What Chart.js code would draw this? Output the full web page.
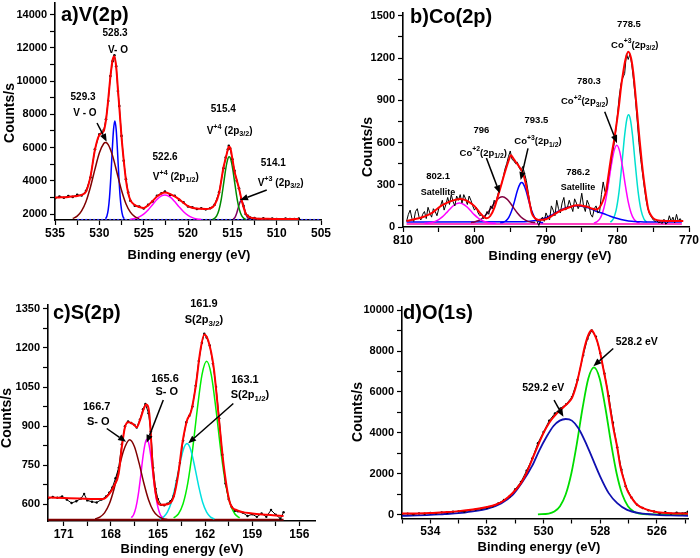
<!DOCTYPE html>
<html><head><meta charset="utf-8">
<script src="https://cdn.jsdelivr.net/npm/chart.js@4.4.1/dist/chart.umd.min.js"></script>
<style>
html,body{margin:0;padding:0;background:#fff;}
#wrap{position:relative;width:700px;height:558px;overflow:hidden;background:#fff;}
canvas{position:absolute;}
</style></head><body>
<div id="wrap">
<canvas id="ca" style="left:0;top:0"></canvas>
<canvas id="cb" style="left:350px;top:0"></canvas>
<canvas id="cc" style="left:0;top:280px"></canvas>
<canvas id="cd" style="left:350px;top:280px"></canvas>
</div>
<script>
// ---------- shared text ----------
const X_TITLE = 'Binding energy (eV)';
const Y_TITLE = 'Counts/s';
const FONT = "'Liberation Sans', Arial, Helvetica, sans-serif";

// ---------- tick values / labels ----------
const aXTicks = [505,507.5,510,512.5,515,517.5,520,522.5,525,527.5,530,532.5,535];
const aXLabels = [505,510,515,520,525,530,535];
const aYTicks = [2000,3000,4000,5000,6000,7000,8000,9000,10000,11000,12000,13000,14000];
const aYLabels = [2000,4000,6000,8000,10000,12000,14000];
const bXTicks = [770,775,780,785,790,795,800,805,810];
const bXLabels = [770,780,790,800,810];
const bYTicks = [0,150,300,450,600,750,900,1050,1200,1350,1500];
const bYLabels = [0,300,600,900,1200,1500];
const cXTicks = [156,157.5,159,160.5,162,163.5,165,166.5,168,169.5,171];
const cXLabels = [156,159,162,165,168,171];
const cYTicks = [600,675,750,825,900,975,1050,1125,1200,1275,1350];
const cYLabels = [600,750,900,1050,1200,1350];
const dXTicks = [525,526,527,528,529,530,531,532,533,534,535];
const dXLabels = [526,528,530,532,534];
const dYTicks = [0,1000,2000,3000,4000,5000,6000,7000,8000,9000,10000];
const dYLabels = [0,2000,4000,6000,8000,10000];

// ---------- panel a : V(2p) ----------
const aRaw = [[535,2950],[534.5,3050],[534,2980],[533.5,3080],[533,3030],[532.5,3150],[532,3120],[531.5,3400],[531,4200],[530.5,5900],[530,6800],[529.5,7050],[529.25,7700],[529,8800],[528.75,10300],[528.5,11200],[528.3,11550],[528.1,10900],[527.9,9400],[527.75,8500],[527.5,6700],[527.25,5200],[527,4100],[526.75,3300],[526.5,2800],[526,2500],[525.5,2450],[525,2330],[524.5,2550],[524,2750],[523.5,3100],[523,3250],[522.6,3350],[522,3150],[521.5,3100],[521,2850],[520.5,2700],[520,2450],[519.5,2400],[519,2300],[518.5,2350],[518,2280],[517.5,2350],[517,2560],[516.5,3300],[516,4750],[515.75,5400],[515.5,5900],[515.4,6100],[515.25,5950],[515,5300],[514.75,4600],[514.5,4000],[514.25,3550],[514,2900],[513.75,2500],[513.5,2000],[513.25,1900],[513,1780],[512.5,1750],[512,1700],[511.5,1740],[511,1680],[510.5,1720],[510,1700],[509.5,1680],[509,1730],[508.5,1690],[508,1700],[507.5,1720]];
const aFit = [[535,2990],[534.5,3000],[534,3010],[533.5,3030],[533,3060],[532.5,3090],[532,3150],[531.5,3350],[531,4250],[530.5,5850],[530,6750],[529.5,7000],[529.25,7660],[529,8870],[528.75,10270],[528.5,11280],[528.3,11500],[528.1,10870],[527.9,9470],[527.75,8460],[527.5,6660],[527.25,5250],[527,4050],[526.75,3260],[526.5,2840],[526,2540],[525.5,2420],[525,2360],[524.5,2520],[524,2780],[523.5,3050],[523,3230],[522.6,3290],[522,3200],[521.5,3060],[521,2880],[520.5,2670],[520,2480],[519.5,2380],[519,2330],[518.5,2310],[518,2300],[517.5,2340],[517,2540],[516.5,3250],[516,4800],[515.75,5350],[515.5,5900],[515.4,6050],[515.25,6000],[515,5350],[514.75,4550],[514.5,4050],[514.25,3550],[514,2950],[513.75,2440],[513.5,2040],[513.25,1880],[513,1800],[512.5,1740],[512,1720],[511,1710],[510,1705],[509,1700],[508,1700],[507.5,1700]];
const aV529 = [[533,1730],[532.5,1870],[532,2190],[531.5,2760],[531,3630],[530.5,4690],[530,5670],[529.5,6240],[529.3,6300],[529,6180],[528.5,5500],[528,4470],[527.5,3430],[527,2620],[526.5,2110],[526,1840],[525.5,1720]];
const aV528 = [[529.3,1715],[529.15,1870],[529,2245],[528.85,3019],[528.7,4250],[528.55,5773],[528.4,7076],[528.25,7600],[528.1,7076],[527.95,5773],[527.8,4250],[527.65,3019],[527.5,2245],[527.35,1870],[527.2,1715]];
const aV522 = [[526.5,1680],[526,1730],[525.5,1825],[525,1995],[524.5,2245],[524,2560],[523.5,2870],[523,3090],[522.6,3150],[522,3020],[521.5,2750],[521,2430],[520.5,2140],[520,1920],[519.5,1780],[519,1705],[518.5,1670]];
const aV515 = [[517.25,1675],[517,1737],[516.75,1900],[516.5,2255],[516.25,2884],[516,3763],[515.75,4693],[515.5,5333],[515.35,5450],[515.2,5333],[514.95,4693],[514.7,3763],[514.45,2884],[514.2,2255],[513.95,1900],[513.7,1737],[513.45,1675]];
const aV514 = [[514.9,1690],[514.7,1805],[514.5,2065],[514.3,2445],[514.1,2755],[514,2800],[513.9,2755],[513.7,2445],[513.5,2065],[513.3,1805],[513.1,1690]];
const aBase = [[532.5,1660],[505,1660]];

// ---------- panel b : Co(2p) ----------
const bRaw = [[809.5,40],[809.25,90],[809,120],[808.75,60],[808.5,40],[808.25,110],[808,130],[807.75,70],[807.5,50],[807.25,90],[807,110],[806.75,60],[806.5,140],[806.25,100],[806,70],[805.75,130],[805.5,110],[805.25,80],[805,130],[804.75,150],[804.5,190],[804.25,120],[804,160],[803.75,210],[803.5,160],[803.25,230],[803,180],[802.75,150],[802.5,220],[802.25,190],[802,230],[801.75,170],[801.5,230],[801.25,200],[801,160],[800.75,220],[800.5,190],[800.25,150],[800,120],[799.75,140],[799.5,100],[799.25,80],[799,90],[798.75,60],[798.5,75],[798.25,110],[798,90],[797.75,150],[797.5,130],[797.25,190],[797,170],[796.75,230],[796.5,270],[796.25,300],[796,350],[795.75,410],[795.5,450],[795.25,500],[795,540],[794.75,480],[794.5,470],[794.25,450],[794,460],[793.75,420],[793.5,400],[793.25,430],[793,380],[792.75,330],[792.5,250],[792.25,170],[792,110],[791.75,80],[791.5,60],[791.25,40],[791,10],[790.75,50],[790.5,70],[790.25,40],[790,100],[789.75,70],[789.5,50],[789.25,150],[789,120],[788.75,80],[788.5,190],[788.25,130],[788,100],[787.75,170],[787.5,210],[787.25,120],[787,140],[786.75,190],[786.5,150],[786.25,110],[786,200],[785.75,170],[785.5,130],[785.25,160],[785,240],[784.75,150],[784.5,110],[784.25,190],[784,160],[783.75,90],[783.5,70],[783.25,130],[783,150],[782.75,100],[782.5,110],[782.25,230],[782,320],[781.75,250],[781.5,260],[781.25,360],[781,430],[780.75,520],[780.5,580],[780.25,680],[780,800],[779.75,930],[779.5,1020],[779.25,1060],[779,1090],[778.75,1230],[778.5,1190],[778.25,1230],[778,1150],[777.75,1040],[777.5,910],[777.25,760],[777,600],[776.75,480],[776.5,380],[776.25,280],[776,190],[775.75,130],[775.5,90],[775.25,70],[775,50],[774.75,40],[774.5,45],[774.25,30],[774,35],[773.75,25],[773.5,55],[773.25,20],[773,30],[772.75,80],[772.5,40],[772.25,70],[772,30],[771.75,90],[771.5,40],[771.25,60],[771,40]];
const bFit = [[809.5,43],[808,60],[807,75],[806,98],[805.3,126],[804.5,155],[803.5,180],[802.5,196],[802,198],[801.5,195],[800.8,178],[800,148],[799.3,104],[798.7,72],[798.3,62],[797.8,78],[797.2,140],[796.6,240],[796.2,310],[795.8,380],[795.3,460],[794.9,510],[794.6,490],[794.2,460],[793.7,425],[793.2,380],[792.8,300],[792.4,200],[792,100],[791.5,60],[791,50],[790,55],[789,85],[788,115],[787,135],[786,152],[785.5,155],[785,152],[784.3,145],[783.5,130],[783,125],[782.5,140],[782,190],[781.6,257],[781.2,390],[780.9,495],[780.5,610],[780.2,709],[779.8,860],[779.5,995],[779.2,1100],[778.9,1186],[778.5,1245],[778.1,1198],[777.8,1100],[777.5,948],[777.2,780],[776.9,614],[776.6,460],[776.3,329],[776,220],[775.7,126],[775.2,75],[774.8,55],[774,45],[772,43],[770.8,43]];
const bSat802 = [[807,26],[806,32],[805,53],[804.5,72],[804,97],[803.5,124],[803,149],[802.5,166],[802.1,170],[801.5,160],[801,140],[800.5,113],[800,86],[799.5,64],[799,47],[798,30],[797,26]];
const bCo796 = [[800.5,32],[800,36],[799.5,44],[799,58],[798.5,81],[798,112],[797.5,149],[797,184],[796.5,208],[796.1,214],[795.5,200],[795,171],[794.5,134],[794,99],[793.5,71],[793,52],[792.5,40],[792,34],[791.5,32]];
const bCo793 = [[796.4,31],[796,34],[795.6,44],[795.2,69],[794.8,115],[794.4,184],[794,259],[793.6,309],[793.4,316],[793.2,309],[792.8,259],[792.4,184],[792,115],[791.6,69],[791.2,44],[790.8,34],[790.4,31]];
const bSat786 = [[809.5,35],[793,38],[792,42],[791,51],[790,66],[789,92],[788,120],[787,140],[786,150],[785.7,151],[785,148],[784,135],[783,112],[782,96],[781,76],[780,60],[779,48],[778,40],[777,37],[776,35],[771,35]];
const bCo780 = [[783.3,28],[782.9,36],[782.5,56],[782.1,100],[781.7,179],[781.3,295],[780.9,428],[780.5,537],[780.1,580],[779.7,537],[779.3,428],[778.9,295],[778.5,179],[778.1,100],[777.7,56],[777.3,36],[776.9,28]];
const bCo778 = [[781,34],[780.6,57],[780.2,118],[779.8,244],[779.4,439],[779,652],[778.7,765],[778.45,798],[778.2,765],[777.9,652],[777.5,439],[777.1,244],[776.7,118],[776.3,57],[775.9,34]];
const bBase = [[809.5,22],[771,22]];

// ---------- panel c : S(2p) ----------
const cRaw = [[172,622],[171.7,628],[171.4,625],[171.1,630],[170.8,618],[170.5,605],[170.2,612],[169.9,622],[169.7,640],[169.5,615],[169.2,610],[168.9,607],[168.6,618],[168.3,630],[168.1,645],[167.9,665],[167.7,700],[167.5,740],[167.3,830],[167.1,900],[166.9,918],[166.7,912],[166.5,905],[166.35,895],[166.15,925],[165.95,965],[165.8,985],[165.6,950],[165.45,880],[165.3,740],[165.15,660],[165,620],[164.8,598],[164.6,596],[164.4,602],[164.2,612],[164,632],[163.8,690],[163.6,760],[163.4,845],[163.2,915],[163,940],[162.8,975],[162.6,1055],[162.4,1150],[162.2,1220],[162.05,1255],[161.9,1240],[161.7,1210],[161.5,1140],[161.3,1050],[161.1,930],[160.9,790],[160.7,680],[160.5,620],[160.3,590],[160.1,575],[159.9,573],[159.6,568],[159.3,555],[159,562],[158.7,552],[158.4,565],[158.1,552],[157.8,578],[157.5,560],[157.2,545],[157,570]];
const cFit = [[172,626],[171,624],[170,622],[169,620],[168.5,620],[168.1,640],[167.8,670],[167.5,718],[167.3,820],[167.1,896],[166.9,915],[166.6,909],[166.35,896],[166.15,922],[165.9,967],[165.75,983],[165.55,948],[165.33,743],[165.1,628],[164.8,598],[164.4,600],[164,628],[163.7,718],[163.45,833],[163.15,922],[162.9,954],[162.6,1050],[162.3,1190],[162.05,1252],[161.8,1229],[161.45,1126],[161.15,948],[160.8,743],[160.4,603],[159.95,577],[159,565],[158,560],[157,555]];
const cS167 = [[169,544],[168.7,551],[168.4,567],[168.1,601],[167.8,658],[167.5,733],[167.2,804],[166.8,848],[166.5,822],[166.2,758],[165.9,682],[165.6,618],[165.3,576],[165,555],[164.7,545],[164.4,542]];
const cS166 = [[166.7,549],[166.55,560],[166.4,588],[166.25,638],[166.1,708],[165.95,784],[165.8,838],[165.7,850],[165.6,838],[165.45,784],[165.3,708],[165.15,638],[165,588],[164.85,560],[164.7,549]];
const cS163 = [[164.9,544],[164.65,551],[164.4,570],[164.15,607],[163.9,668],[163.65,742],[163.4,807],[163.15,833],[162.9,807],[162.65,742],[162.4,668],[162.15,607],[161.9,570],[161.65,551],[161.4,544]];
const cS162 = [[164,548],[163.7,563],[163.4,602],[163.1,681],[162.8,807],[162.5,962],[162.2,1096],[161.9,1149],[161.6,1096],[161.3,962],[161,807],[160.7,681],[160.4,602],[160.1,563],[159.8,548]];
const cBase = [[172,541],[157,541]];

// ---------- panel d : O(1s) ----------
const dRaw = [[535,40],[534.8,60],[534.6,30],[534.4,70],[534.2,50],[534,90],[533.8,80],[533.6,120],[533.4,110],[533.2,150],[533,170],[532.8,160],[532.6,230],[532.4,260],[532.2,300],[532,350],[531.8,420],[531.6,560],[531.4,720],[531.2,900],[531,1250],[530.8,1600],[530.6,2150],[530.4,2750],[530.2,3500],[530,4050],[529.8,4600],[529.6,4950],[529.4,5200],[529.2,5400],[529,5750],[528.8,6600],[528.6,7800],[528.45,8600],[528.3,9000],[528.15,8700],[528,7900],[527.85,6900],[527.7,5800],[527.55,4500],[527.4,3300],[527.25,2200],[527.1,1400],[526.9,850],[526.7,500],[526.5,330],[526.3,220],[526.1,160],[525.9,80],[525.7,130],[525.5,60],[525.3,100],[525.1,70],[524.9,150]];
const dFit = [[535,60],[534.5,70],[534,90],[533.5,130],[533,180],[532.5,260],[532,380],[531.7,490],[531.4,700],[531.1,1050],[530.8,1550],[530.6,2050],[530.3,3050],[530,4000],[529.8,4500],[529.5,5000],[529.2,5380],[529,5700],[528.85,6300],[528.7,7200],[528.55,8200],[528.4,8850],[528.3,9020],[528.2,8800],[528.1,8450],[528,7900],[527.9,7200],[527.76,6200],[527.65,5200],[527.53,4200],[527.4,3300],[527.29,2360],[527.15,1650],[527.05,1220],[526.9,850],[526.7,490],[526.4,280],[526.1,160],[525.8,100],[525.4,70],[524.9,55]];
const dO529 = [[535,-45],[534,-5],[533.5,40],[533,80],[532.5,170],[532,290],[531.5,560],[531.1,960],[530.75,1600],[530.4,2400],[530.15,3150],[529.9,3800],[529.65,4340],[529.43,4600],[529.22,4680],[529,4600],[528.77,4230],[528.53,3580],[528.3,2840],[528,1870],[527.7,1060],[527.4,570],[527.05,240],[526.6,80],[526,0],[525.5,-30],[524.9,-45]];
const dO528 = [[530.2,25],[529.82,60],[529.62,160],[529.42,420],[529.22,990],[529.02,2020],[528.82,3520],[528.62,5240],[528.42,6660],[528.22,7200],[528.02,6660],[527.82,5240],[527.62,3520],[527.42,2020],[527.22,990],[527.02,420],[526.82,160],[526.62,60],[526.2,25],[524.9,20]];

// ---------- annotations (data coordinates) ----------
const aNotes = [
  {x:528.23,y:12894,parts:[['528.3']]},{x:527.9,y:11871,parts:[['V- O']]},
  {x:531.84,y:9042,parts:[['529.3']]},{x:531.62,y:8079,parts:[['V - O']]},
  {x:522.59,y:5431,parts:[['522.6']]},{x:521.38,y:4228,parts:[['V'],['+4','sup'],[' (2p'],['1/2','sub'],[')']]},
  {x:516.02,y:8278,parts:[['515.4']]},{x:515.3,y:7000,parts:[['V'],['+4','sup'],[' (2p'],['3/2','sub'],[')']]},
  {x:510.38,y:5056,parts:[['514.1']]},{x:509.55,y:3849,parts:[['V'],['+3','sup'],[' (2p'],['3/2','sub'],[')']]}
];
const aArrows = [[530.26,7477,529.17,6352],[511.12,3445,514.13,2844]];
const bNotes = [
  {x:778.39,y:1442,parts:[['778.5']]},{x:777.59,y:1293,parts:[['Co'],['+3','sup'],['(2p'],['3/2','sub'],[')']]},
  {x:783.99,y:1037,parts:[['780.3']]},{x:784.59,y:890,parts:[['Co'],['+2','sup'],['(2p'],['3/2','sub'],[')']]},
  {x:805.1,y:357,parts:[['802.1']]},{x:805.1,y:244,parts:[['Satellite']],size:9},
  {x:799.04,y:689,parts:[['796']]},{x:798.78,y:526,parts:[['Co'],['+2','sup'],['(2p'],['1/2','sub'],[')']]},
  {x:791.34,y:760,parts:[['793.5']]},{x:791.12,y:606,parts:[['Co'],['+3','sup'],['(2p'],['1/2','sub'],[')']]},
  {x:785.52,y:389,parts:[['786.2']]},{x:785.52,y:284,parts:[['Satellite']],size:9}
];
const bArrows = [[781.79,819,780.07,595],[798.34,490,796.47,239],[792.52,559,793.54,334]];
const cNotes = [
  {x:162.07,y:1368,parts:[['161.9']]},{x:162.07,y:1306,parts:[['S(2p'],['3/2','sub'],[')']]},
  {x:164.55,y:1083,parts:[['165.6']]},{x:164.44,y:1032,parts:[['S- O']]},
  {x:168.9,y:974,parts:[['166.7']]},{x:168.8,y:917,parts:[['S- O']]},
  {x:159.46,y:1076,parts:[['163.1']]},{x:159.14,y:1019,parts:[['S(2p'],['1/2','sub'],[')']]}
];
const cArrows = [[164.66,1000,165.72,836],[168.26,891,167.03,840],[160.2,987,163.07,834]];
const dNotes = [
  {x:530.01,y:6170,parts:[['529.2 eV']]},{x:526.71,y:8443,parts:[['528.2 eV']]}
];
const dArrows = [[529.63,5599,529.3,4785],[527.54,8120,528.24,7258]];

// ---------- helpers ----------
function drawRich(ctx,parts,cx,cy,size){
  let w=0;
  const segs=parts.map(p=>{const s=p[1]?size*0.72:size;ctx.font='bold '+s+'px '+FONT;const m=ctx.measureText(p[0]).width;w+=m;return{t:p[0],s:s,m:m,k:p[1]};});
  let x=cx-w/2;ctx.textAlign='left';ctx.textBaseline='middle';
  for(const g of segs){ctx.font='bold '+g.s+'px '+FONT;let dy=0;if(g.k==='sup')dy=-size*0.42;if(g.k==='sub')dy=size*0.32;ctx.fillText(g.t,x,cy+dy);x+=g.m;}
}
function drawArrow(ctx,x1,y1,x2,y2){
  const ang=Math.atan2(y2-y1,x2-x1),hl=8,hw=3.2;
  const bx=x2-hl*Math.cos(ang),by=y2-hl*Math.sin(ang);
  ctx.lineWidth=1.5;ctx.beginPath();ctx.moveTo(x1,y1);ctx.lineTo(bx,by);ctx.stroke();
  ctx.beginPath();ctx.moveTo(x2,y2);ctx.lineTo(bx-hw*Math.sin(ang),by+hw*Math.cos(ang));ctx.lineTo(bx+hw*Math.sin(ang),by-hw*Math.cos(ang));ctx.closePath();ctx.fill();
}
function axis(P,k){
  const A=P[k],isX=k==='x';
  return {type:'linear',position:isX?'bottom':'left',reverse:isX,min:A.min,max:A.max,
    afterBuildTicks(s){s.ticks=A.ticks.map(v=>({value:v}));},
    afterFit(s){if(isX){s.height=P.box.h-P.box.bottom;}else{s.width=P.box.left;}s.paddingLeft=0;s.paddingRight=0;s.paddingTop=0;s.paddingBottom=0;},
    ticks:{autoSkip:false,maxRotation:0,minRotation:0,color:'#000',padding:isX?1:3,
      font:{family:FONT,size:A.fs,weight:'bold'},callback:v=>A.labels.indexOf(v)>=0?String(v):''},
    grid:{display:true,drawOnChartArea:false,drawTicks:true,tickLength:5,tickColor:'#000',tickWidth:1.2},
    border:{display:true,color:'#000',width:1.6},title:{display:false}};
}
function makeChart(id,P){
  const cv=document.getElementById(id);cv.width=P.box.w;cv.height=P.box.h;
  const plug={id:'deco'+id,afterDatasetsDraw(chart){
    const ctx=chart.ctx,xs=chart.scales.x,ys=chart.scales.y;ctx.save();ctx.fillStyle='#000';ctx.strokeStyle='#000';
    for(const n of P.notes)drawRich(ctx,n.parts,xs.getPixelForValue(n.x),ys.getPixelForValue(n.y),n.size||P.noteSize);
    for(const a of P.arrows)drawArrow(ctx,xs.getPixelForValue(a[0]),ys.getPixelForValue(a[1]),xs.getPixelForValue(a[2]),ys.getPixelForValue(a[3]));
    ctx.font='bold 20px '+FONT;ctx.textAlign='left';ctx.textBaseline='middle';ctx.fillText(P.title.text,P.title.x,P.title.y);
    ctx.font='bold 13px '+FONT;ctx.textAlign='center';ctx.fillText(X_TITLE,P.xTitle.x,P.xTitle.y);
    ctx.translate(P.yTitle.x,P.yTitle.y);ctx.rotate(-Math.PI/2);ctx.font='bold 14px '+FONT;ctx.fillText(Y_TITLE,0,0);
    ctx.restore();}};
  return new Chart(cv,{type:'scatter',
    data:{datasets:P.series.map(s=>({data:s.data.map(p=>({x:p[0],y:p[1]})),showLine:true,borderColor:s.color,backgroundColor:s.color,
      borderWidth:s.width||1.5,pointRadius:s.dot||0,pointHoverRadius:0,pointBorderWidth:0,borderDash:s.dash||[],
      tension:s.raw?0:0.4,cubicInterpolationMode:s.raw?'default':'monotone'}))},
    options:{responsive:false,animation:false,devicePixelRatio:1,events:[],
      layout:{padding:{left:0,top:P.box.top,right:P.box.w-P.box.right,bottom:0}},
      plugins:{legend:{display:false},tooltip:{enabled:false}},
      scales:{x:axis(P,'x'),y:axis(P,'y')}},
    plugins:[plug]});
}

makeChart('ca',{box:{w:350,h:280,left:55,right:321,top:3,bottom:220},
  x:{min:505,max:535,ticks:aXTicks,labels:aXLabels,fs:12},y:{min:1640,max:14700,ticks:aYTicks,labels:aYLabels,fs:11},
  series:[{data:aFit,color:'#ff0000',width:2},{data:aRaw,color:'#000',width:1,dot:1.3,raw:true},
    {data:aV529,color:'#800000'},{data:aV528,color:'#0000ff'},{data:aV522,color:'#ff00ff'},{data:aV515,color:'#008a00'},{data:aV514,color:'#800060'},
    {data:aBase,color:'#3030ff',width:1.5,dash:[2,2],raw:true}],
  notes:aNotes,arrows:aArrows,noteSize:10,
  title:{text:'a)V(2p)',x:61,y:15},xTitle:{x:189,y:255},yTitle:{x:10,y:113}});

makeChart('cb',{box:{w:350,h:280,left:53,right:339,top:13,bottom:227},
  x:{min:770,max:810,ticks:bXTicks,labels:bXLabels,fs:12},y:{min:0,max:1520,ticks:bYTicks,labels:bYLabels,fs:11},
  series:[{data:bFit,color:'#ff0000',width:2},{data:bRaw,color:'#000',width:1,raw:true},
    {data:bSat802,color:'#ff00ff'},{data:bCo796,color:'#800040'},{data:bCo793,color:'#0000ff'},{data:bSat786,color:'#0000ff'},
    {data:bCo780,color:'#ff00ff'},{data:bCo778,color:'#00e0d0'},{data:bBase,color:'#ff40c0',width:2,raw:true}],
  notes:bNotes,arrows:bArrows,noteSize:9.5,
  title:{text:'b)Co(2p)',x:60,y:17},xTitle:{x:200,y:256},yTitle:{x:18,y:147}});

makeChart('cc',{box:{w:350,h:278,left:48,right:315,top:25,bottom:241},
  x:{min:155,max:172,ticks:cXTicks,labels:cXLabels,fs:12},y:{min:536,max:1365,ticks:cYTicks,labels:cYLabels,fs:11},
  series:[{data:cFit,color:'#ff0000',width:2},{data:cRaw,color:'#000',width:1,dot:1.2,raw:true},
    {data:cS167,color:'#800000'},{data:cS166,color:'#ff00ff'},{data:cS163,color:'#00e0e0'},{data:cS162,color:'#00ee00'},
    {data:cBase,color:'#800000',width:2,raw:true}],
  notes:cNotes,arrows:cArrows,noteSize:11,
  title:{text:'c)S(2p)',x:53,y:33},xTitle:{x:182,y:269},yTitle:{x:7,y:138}});

makeChart('cd',{box:{w:350,h:278,left:52,right:338,top:27,bottom:238.5},
  x:{min:524.9,max:535,ticks:dXTicks,labels:dXLabels,fs:12},y:{min:-180,max:10150,ticks:dYTicks,labels:dYLabels,fs:11},
  series:[{data:dFit,color:'#ff0000',width:2},{data:dRaw,color:'#000',width:1,dot:1.2,raw:true},
    {data:dO529,color:'#1010b0',width:1.8},{data:dO528,color:'#00dd00',width:1.8}],
  notes:dNotes,arrows:dArrows,noteSize:10.5,
  title:{text:'d)O(1s)',x:53,y:33},xTitle:{x:189,y:267},yTitle:{x:8,y:132}});
</script>
</body></html>
